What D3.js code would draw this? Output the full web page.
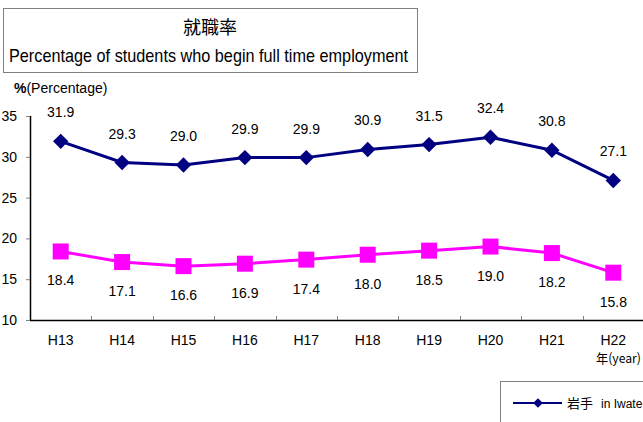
<!DOCTYPE html>
<meta charset="utf-8">
<script src="https://d3js.org/d3.v7.min.js"></script>
<style>
  body { margin: 0; background: #fff; }
  svg { font-family: 'Liberation Sans', 'Noto Sans CJK JP', sans-serif; }
</style>
<div id="chart"></div>
<script>

// data
var years = ["H13", "H14", "H15", "H16", "H17", "H18", "H19", "H20", "H21", "H22"];
var iwate = [31.9, 29.3, 29.0, 29.9, 29.9, 30.9, 31.5, 32.4, 30.8, 27.1];
var other = [18.4, 17.1, 16.6, 16.9, 17.4, 18.0, 18.5, 19.0, 18.2, 15.8];
var yTicks = [10, 15, 20, 25, 30, 35];

var W = 643, H = 422;
var plotLeft = 30, plotRight = 644, plotTop = 116, plotBottom = 320;

var svg = d3.select("#chart").append("svg")
    .attr("width", W)
    .attr("height", H);

// title box
svg.append("rect")
    .attr("x", 3.5).attr("y", 8.5)
    .attr("width", 414).attr("height", 64)
    .attr("fill", "#fff")
    .attr("stroke", "#808080");
svg.append("text")
    .attr("x", 210).attr("y", 34)
    .attr("text-anchor", "middle")
    .style("font-family", "'Noto Sans CJK JP'")
    .style("font-size", "18px")
    .text("就職率");
svg.append("text")
    .attr("x", 9).attr("y", 62)
    .attr("textLength", 399)
    .attr("lengthAdjust", "spacingAndGlyphs")
    .style("font-size", "19px")
    .text("Percentage of students who begin full time employment");

// unit label
var unit = svg.append("text")
    .attr("x", 14).attr("y", 93)
    .style("font-size", "14px");
unit.append("tspan").style("font-weight", "bold").text("%");
unit.append("tspan").text("(Percentage)");

// scales
var x = d3.scaleBand()
    .domain(years)
    .range([plotLeft, plotRight]);

var y = d3.scaleLinear()
    .domain([10, 35])
    .range([plotBottom, plotTop]);

// y axis
var yAxis = svg.append("g")
    .attr("transform", "translate(" + plotLeft + ",0)")
    .call(d3.axisLeft(y).tickValues(yTicks).tickSize(4).tickPadding(9));
yAxis.select(".domain").attr("d", "M0.5," + plotTop + "V" + plotBottom).attr("stroke", "#000").attr("stroke-width", 1.5);
yAxis.selectAll(".tick line").attr("stroke", "#808080").attr("x1", 0).attr("x2", -4);
yAxis.selectAll(".tick text")
    .style("font-size", "14px")
    .attr("fill", "#000");

// x axis, ticks point up between categories
var xAxis = svg.append("g")
    .attr("transform", "translate(0," + plotBottom + ")");
xAxis.append("line")
    .attr("x1", plotLeft).attr("x2", plotRight)
    .attr("y1", 0.5).attr("y2", 0.5)
    .attr("stroke", "#000")
    .attr("stroke-width", 1.5);
xAxis.selectAll(".sep")
    .data(years.slice(1))
    .enter()
    .append("line")
      .attr("x1", function(d){ return Math.round(x(d)) + 0.5 })
      .attr("x2", function(d){ return Math.round(x(d)) + 0.5 })
      .attr("y1", 0).attr("y2", -4)
      .attr("stroke", "#808080");
xAxis.selectAll(".lab")
    .data(years)
    .enter()
    .append("text")
      .attr("x", function(d){ return x(d) + x.bandwidth() / 2 })
      .attr("y", 25)
      .attr("text-anchor", "middle")
      .style("font-size", "14px")
      .text(function(d){ return d });

svg.append("text")
    .attr("x", 596).attr("y", 363)
    .attr("textLength", 45)
    .attr("lengthAdjust", "spacingAndGlyphs")
    .style("font-family", "'Noto Sans CJK JP'")
    .style("font-size", "13px")
    .text("年(year)");

function cx(d, i){ return x(years[i]) + x.bandwidth() / 2 }

var line = d3.line()
    .x(cx)
    .y(function(d){ return y(d) });

// pink series
svg.append("path")
    .datum(other)
    .attr("d", line)
    .attr("fill", "none")
    .attr("stroke", "#ff00ff")
    .attr("stroke-width", 3);
svg.selectAll(".sq")
    .data(other)
    .enter()
    .append("rect")
      .attr("x", function(d, i){ return cx(d, i) - 8 })
      .attr("y", function(d){ return y(d) - 8 })
      .attr("width", 16).attr("height", 16)
      .attr("fill", "#ff00ff");
svg.selectAll(".lo")
    .data(other)
    .enter()
    .append("text")
      .attr("x", cx)
      .attr("y", function(d){ return y(d) + 34 })
      .attr("text-anchor", "middle")
      .style("font-size", "14px")
      .text(function(d){ return d.toFixed(1) });

// navy series
svg.append("path")
    .datum(iwate)
    .attr("d", line)
    .attr("fill", "none")
    .attr("stroke", "#000080")
    .attr("stroke-width", 3);
var diamond = d3.symbol().type(d3.symbolDiamond2).size(150);
svg.selectAll(".dm")
    .data(iwate)
    .enter()
    .append("path")
      .attr("d", diamond)
      .attr("transform", function(d, i){ return "translate(" + cx(d, i) + "," + y(d) + ")" })
      .attr("fill", "#000080");
svg.selectAll(".hi")
    .data(iwate)
    .enter()
    .append("text")
      .attr("x", cx)
      .attr("y", function(d){ return y(d) - 24 })
      .attr("text-anchor", "middle")
      .style("font-size", "14px")
      .text(function(d){ return d.toFixed(1) });

// legend (runs off the right edge like the original)
svg.append("rect")
    .attr("x", 500.5).attr("y", 381.5)
    .attr("width", 200).attr("height", 60)
    .attr("fill", "#fff")
    .attr("stroke", "#808080");
svg.append("line")
    .attr("x1", 513).attr("x2", 562)
    .attr("y1", 403).attr("y2", 403)
    .attr("stroke", "#000080")
    .attr("stroke-width", 2);
svg.append("path")
    .attr("d", d3.symbol().type(d3.symbolDiamond2).size(60))
    .attr("transform", "translate(538,403)")
    .attr("fill", "#000080");
var lg = svg.append("text")
    .attr("x", 567).attr("y", 408)
    .style("font-size", "13px");
lg.append("tspan").style("font-family", "'Noto Sans CJK JP'").text("岩手");
lg.append("tspan").attr("dx", 8).style("font-size", "12px").text("in Iwate");

</script>
